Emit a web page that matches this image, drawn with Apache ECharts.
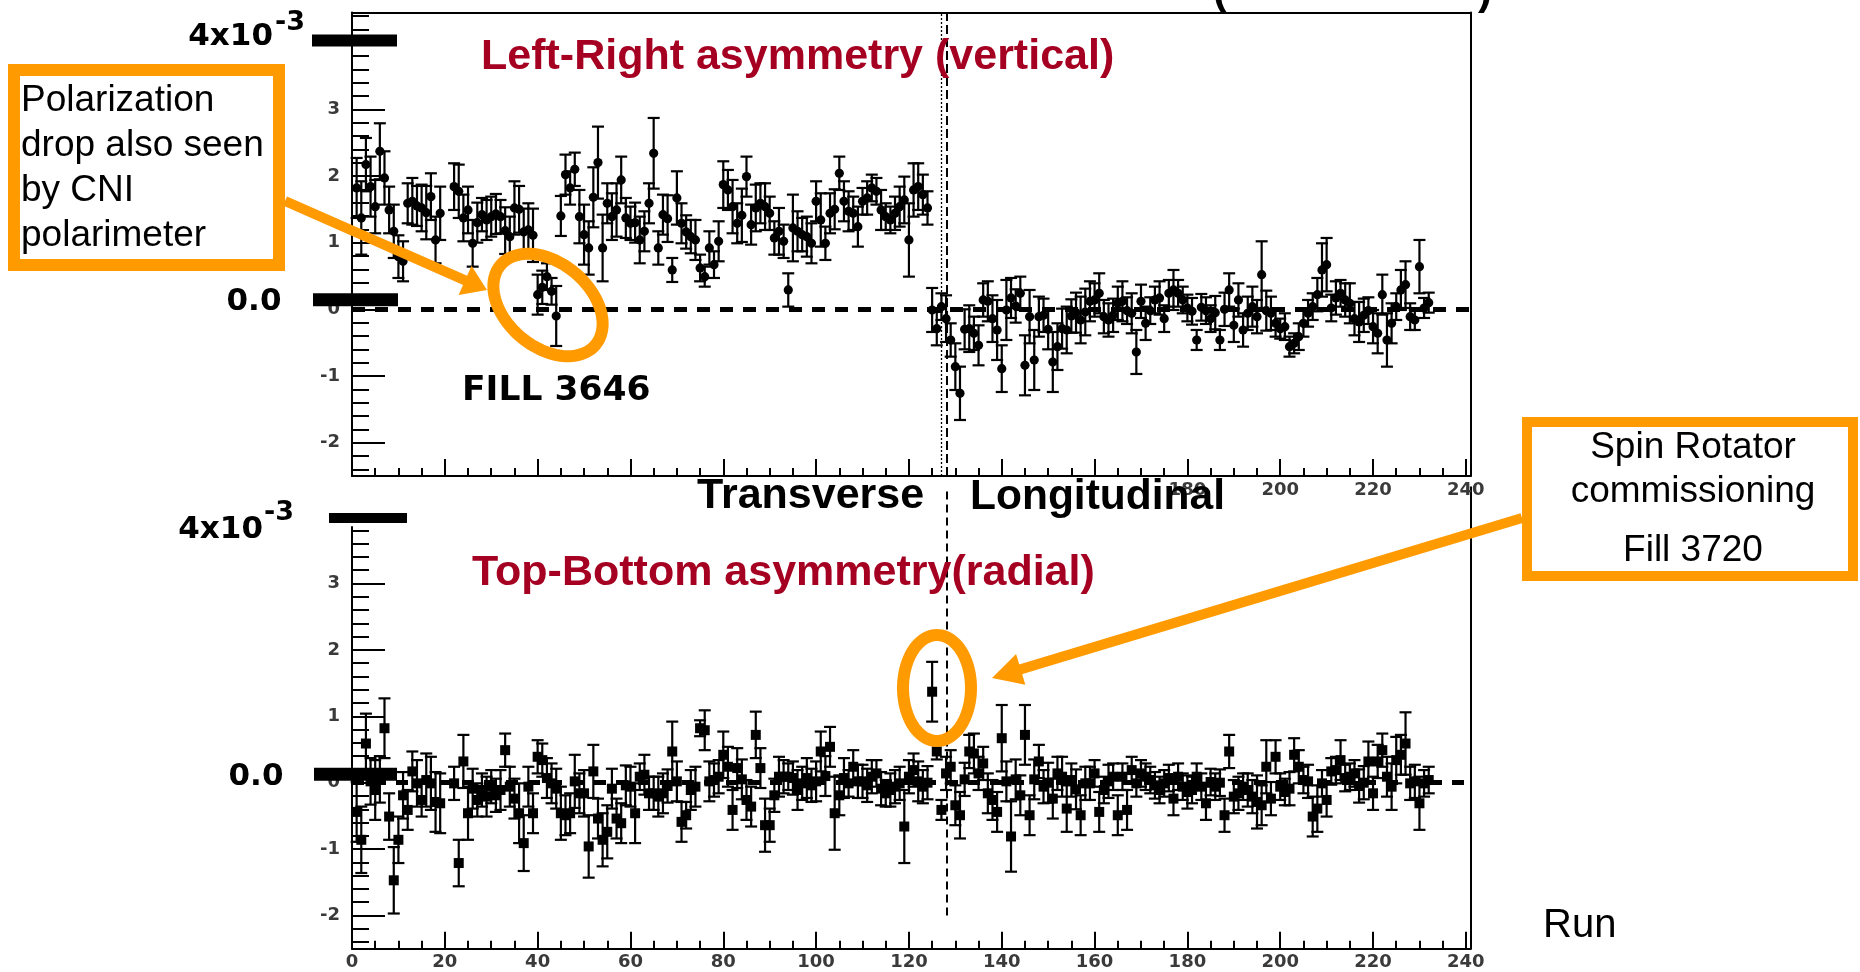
<!DOCTYPE html>
<html>
<head>
<meta charset="utf-8">
<script src="https://cdn.jsdelivr.net/npm/echarts@6.0.0/dist/echarts.min.js"></script>
<style>
  html, body { margin: 0; padding: 0; background: #fff; }
  #chart { width: 1860px; height: 972px; }
</style>
</head>
<body>
<div id="chart"></div>
<script>
// Run number of the first entry in every series below
const FIRST_RUN = 1;

// Left-Right asymmetry (vertical), units of 1e-3, one entry per run (null = no measurement)
const lrAsym = [
  1.82, 1.37, 2.17, 1.84, 1.54, 2.37, 1.97, 1.49, 1.17, 0.79,
  0.72, 1.59, 1.62, 1.55, 1.52, 1.45, 1.69, 1.04, 1.44, null,
  null, 1.84, 1.77, 1.37, 1.49, 0.99, 1.30, 1.42, 1.34, 1.39,
  1.43, 1.39, 1.18, 1.09, 1.52, 1.50, 1.16, 1.19, 1.11, 0.22,
  0.33, 0.49, 0.27, -0.10, 1.40, 2.02, 1.82, 2.10, 1.39, 1.12,
  0.92, 1.68, 2.20, 0.92, 1.59, 1.39, 1.49, 1.94, 1.37, 1.29,
  1.30, 1.04, 1.17, 1.59, 2.34, 0.92, 1.42, 1.36, 0.59, 1.67,
  1.29, 1.16, 1.09, 1.04, 0.62, 0.49, 0.92, 0.67, 1.02, 1.87,
  1.79, 1.54, 1.29, 1.41, 1.99, 1.27, 1.52, 1.59, 1.54, 1.44,
  1.07, 1.17, 1.02, 0.29, 1.22, 1.17, 1.12, 1.09, 0.99, 1.62,
  1.34, 0.99, 1.44, 1.50, 2.04, 1.62, 1.47, 1.44, 1.24, 1.62,
  1.67, 1.82, 1.77, 1.49, 1.39, 1.34, 1.44, 1.54, 1.64, 1.04,
  1.79, 1.84, 1.72, 1.52, -0.01, -0.29, 0.04, -0.14, -0.46, -0.86,
  -1.26, -0.30, -0.29, -0.36, -0.54, 0.14, 0.12, -0.14, -0.31, -0.89,
  -0.01, 0.17, 0.05, 0.24, -0.84, -0.11, -0.76, -0.11, -0.09, -0.30,
  -0.79, -0.56, -0.29, -0.31, -0.10, -0.05, -0.16, -0.04, 0.12, 0.14,
  0.24, -0.11, -0.16, -0.09, 0.09, 0.12, -0.02, -0.06, -0.64, 0.12,
  -0.21, -0.02, 0.14, 0.17, -0.14, 0.24, 0.29, 0.24, 0.14, 0.02,
  -0.03, -0.46, 0.03, -0.02, -0.14, -0.05, -0.46, 0.00, 0.29, -0.24,
  0.14, -0.31, -0.06, 0.04, -0.11, 0.52, -0.02, -0.06, -0.21, -0.29,
  -0.26, -0.56, -0.51, -0.41, -0.21, -0.06, 0.04, 0.22, 0.59, 0.67,
  0.02, 0.17, 0.24, 0.14, 0.09, -0.14, -0.19, -0.09, -0.02, -0.26,
  -0.36, 0.22, -0.46, -0.21, 0.04, 0.29, 0.37, -0.11, -0.16, 0.64,
  0.02, 0.10
];
const lrErr = [
  0.45, 0.55, 0.40, 0.45, 0.40, 0.42, 0.40, 0.35, 0.40, 0.32,
  0.30, 0.30, 0.35, 0.30, 0.35, 0.40, 0.35, 0.35, 0.40, null,
  null, 0.35, 0.40, 0.35, 0.35, 0.35, 0.30, 0.25, 0.30, 0.30,
  0.30, 0.25, 0.35, 0.30, 0.40, 0.35, 0.35, 0.40, 0.40, 0.30,
  0.25, 0.20, 0.20, 0.45, 0.30, 0.30, 0.25, 0.25, 0.40, 0.45,
  0.40, 0.45, 0.54, 0.50, 0.30, 0.35, 0.40, 0.35, 0.30, 0.25,
  0.30, 0.35, 0.30, 0.30, 0.53, 0.25, 0.30, 0.35, 0.18, 0.40,
  0.30, 0.25, 0.25, 0.30, 0.20, 0.15, 0.25, 0.20, 0.30, 0.35,
  0.30, 0.40, 0.30, 0.40, 0.30, 0.30, 0.35, 0.30, 0.35, 0.25,
  0.25, 0.35, 0.25, 0.25, 0.50, 0.30, 0.25, 0.30, 0.30, 0.30,
  0.40, 0.25, 0.30, 0.30, 0.25, 0.30, 0.30, 0.25, 0.30, 0.20,
  0.25, 0.20, 0.20, 0.30, 0.20, 0.20, 0.25, 0.30, 0.35, 0.55,
  0.40, 0.35, 0.30, 0.25, 0.33, 0.25, 0.20, 0.35, 0.25, 0.35,
  0.40, 0.30, 0.35, 0.25, 0.30, 0.25, 0.30, 0.35, 0.45, 0.35,
  0.45, 0.30, 0.25, 0.25, 0.45, 0.40, 0.45, 0.30, 0.25, 0.30,
  0.45, 0.35, 0.30, 0.35, 0.25, 0.30, 0.35, 0.35, 0.30, 0.25,
  0.30, 0.25, 0.25, 0.25, 0.25, 0.30, 0.20, 0.30, 0.33, 0.25,
  0.25, 0.20, 0.20, 0.25, 0.20, 0.20, 0.30, 0.20, 0.20, 0.20,
  0.20, 0.15, 0.20, 0.20, 0.20, 0.25, 0.15, 0.25, 0.25, 0.25,
  0.25, 0.25, 0.25, 0.30, 0.25, 0.50, 0.30, 0.25, 0.20, 0.15,
  0.20, 0.15, 0.15, 0.20, 0.20, 0.20, 0.20, 0.25, 0.40, 0.40,
  0.20, 0.25, 0.20, 0.25, 0.30, 0.25, 0.30, 0.25, 0.20, 0.25,
  0.30, 0.30, 0.40, 0.30, 0.20, 0.30, 0.35, 0.20, 0.15, 0.40,
  0.15, 0.15
];

// Top-Bottom asymmetry (radial), units of 1e-3
const tbAsym = [
  -0.44, -0.86, 0.59, 0.02, -0.11, 0.05, 0.82, -0.51, -1.47, -0.86,
  -0.19, -0.41, 0.17, -0.01, -0.26, 0.04, -0.01, -0.29, -0.31, null,
  null, -0.01, -1.21, 0.32, -0.46, -0.09, -0.26, -0.11, -0.21, -0.06,
  -0.19, -0.11, 0.49, -0.06, -0.24, -0.46, -0.91, -0.06, -0.46, 0.39,
  0.34, 0.07, -0.01, -0.09, -0.46, -0.49, -0.46, 0.02, -0.16, -0.16,
  -0.96, 0.17, -0.54, -0.86, -0.74, -0.09, -0.54, -0.61, -0.04, -0.06,
  -0.46, 0.09, 0.12, -0.16, -0.16, -0.21, -0.16, -0.05, 0.47, 0.02,
  -0.59, -0.49, -0.11, -0.06, 0.82, 0.79, 0.02, 0.04, 0.09, 0.42,
  0.24, -0.41, 0.22, 0.05, -0.26, -0.36, 0.72, 0.22, -0.64, -0.64,
  -0.19, 0.09, 0.09, 0.09, 0.07, -0.11, -0.01, 0.07, -0.04, 0.02,
  0.47, 0.10, 0.54, -0.46, -0.19, 0.07, -0.01, 0.24, 0.02, 0.02,
  -0.04, 0.09, 0.14, -0.09, -0.16, -0.11, -0.06, -0.01, -0.66, 0.09,
  0.19, 0.02, -0.06, 0.00, 1.37, 0.47, -0.41, 0.14, 0.24, -0.34,
  -0.49, 0.05, 0.47, 0.44, 0.14, 0.29, -0.16, -0.26, -0.44, 0.67,
  0.02, -0.81, 0.05, -0.19, 0.72, -0.49, 0.05, 0.32, -0.06, 0.00,
  -0.24, 0.14, 0.09, -0.39, 0.04, -0.10, -0.49, -0.01, -0.01, 0.14,
  -0.44, -0.11, 0.02, 0.09, -0.49, 0.09, -0.41, 0.19, -0.01, 0.14,
  0.09, 0.04, -0.04, -0.11, -0.01, 0.07, -0.24, 0.09, -0.06, -0.14,
  -0.11, 0.09, -0.06, -0.31, 0.01, -0.06, 0.00, -0.49, 0.47, -0.21,
  -0.16, -0.06, -0.11, -0.21, -0.29, -0.34, 0.24, -0.24, 0.39, -0.06,
  -0.14, -0.09, 0.42, 0.24, 0.04, 0.02, -0.51, -0.39, -0.01, -0.26,
  0.17, 0.19, 0.34, 0.07, 0.09, 0.14, -0.05, 0.00, 0.32, -0.16,
  0.32, 0.49, 0.09, -0.06, 0.34, 0.42, 0.59, -0.01, 0.02, -0.31,
  -0.01, 0.04
];
const tbErr = [
  0.45, 0.50, 0.45, 0.35, 0.45, 0.35, 0.45, 0.35, 0.50, 0.35,
  0.35, 0.30, 0.30, 0.35, 0.25, 0.40, 0.40, 0.45, 0.45, null,
  null, 0.25, 0.35, 0.40, 0.40, 0.30, 0.25, 0.25, 0.30, 0.25,
  0.25, 0.30, 0.25, 0.30, 0.30, 0.45, 0.42, 0.30, 0.30, 0.25,
  0.25, 0.30, 0.30, 0.30, 0.40, 0.30, 0.30, 0.40, 0.30, 0.35,
  0.47, 0.40, 0.30, 0.40, 0.40, 0.30, 0.30, 0.30, 0.30, 0.30,
  0.45, 0.20, 0.30, 0.25, 0.25, 0.30, 0.30, 0.25, 0.45, 0.30,
  0.30, 0.20, 0.30, 0.30, 0.12, 0.30, 0.30, 0.25, 0.25, 0.35,
  0.30, 0.30, 0.30, 0.30, 0.30, 0.30, 0.35, 0.30, 0.40, 0.25,
  0.25, 0.30, 0.25, 0.20, 0.25, 0.30, 0.25, 0.30, 0.25, 0.30,
  0.30, 0.30, 0.30, 0.55, 0.30, 0.30, 0.20, 0.25, 0.25, 0.25,
  0.25, 0.25, 0.20, 0.25, 0.20, 0.25, 0.25, 0.25, 0.55, 0.25,
  0.25, 0.30, 0.25, 0.25, 0.45, 0.12, 0.15, 0.25, 0.25, 0.30,
  0.35, 0.25, 0.25, 0.30, 0.25, 0.25, 0.30, 0.30, 0.30, 0.50,
  0.30, 0.53, 0.30, 0.30, 0.45, 0.30, 0.30, 0.25, 0.25, 0.30,
  0.30, 0.25, 0.30, 0.35, 0.25, 0.30, 0.30, 0.25, 0.25, 0.20,
  0.30, 0.20, 0.25, 0.20, 0.30, 0.20, 0.30, 0.20, 0.20, 0.20,
  0.20, 0.20, 0.20, 0.20, 0.20, 0.20, 0.25, 0.20, 0.20, 0.25,
  0.20, 0.20, 0.20, 0.25, 0.20, 0.20, 0.20, 0.25, 0.25, 0.25,
  0.25, 0.20, 0.25, 0.25, 0.40, 0.30, 0.40, 0.25, 0.25, 0.20,
  0.20, 0.25, 0.25, 0.25, 0.20, 0.25, 0.30, 0.35, 0.20, 0.25,
  0.20, 0.20, 0.30, 0.20, 0.20, 0.20, 0.25, 0.25, 0.30, 0.25,
  0.25, 0.25, 0.30, 0.35, 0.35, 0.30, 0.47, 0.25, 0.25, 0.40,
  0.20, 0.20
];

// Axis ranges, ticks and labels
const X_MIN = 0, X_MAX = 241;
const Y_MIN = -2.5, Y_MAX = 4.45;
const xMajorTicks = [0, 20, 40, 60, 80, 100, 120, 140, 160, 180, 200, 220, 240];
const xLabelsUpper = [180, 200, 220, 240];
const xLabelsLower = [0, 20, 40, 60, 80, 100, 120, 140, 160, 180, 200, 220, 240];
const yMajorTicks = [-2, -1, 0, 1, 2, 3, 4];
const yTickLabels = [-2, -1, 0, 1, 2, 3];

// Runs where the beam polarization was switched from transverse to longitudinal
const switchRunDotted = 127.0;
const switchRunDashed = 128.1;
const dashedLineLowEnd = -2.0;

// Minor ticks: every 5 runs on x, every 0.2 on y
const xMinorTicks = [];
for (let v = 0; v <= 240; v += 5) if (v % 20 !== 0) xMinorTicks.push(v);
const yMinorTicks = [];
for (let k = -12; k <= 22; k++) if (k % 5 !== 0) yMinorTicks.push(Math.round(k * 2) / 10);

function toPoints(vals, errs) {
  const out = [];
  vals.forEach((v, i) => { if (v !== null) out.push([FIRST_RUN + i, v, errs[i]]); });
  return out;
}

// Error bar with caps plus a filled marker (circle or square)
function errorBarRenderer(marker) {
  return function (params, api) {
    const x = api.value(0), y = api.value(1), e = api.value(2);
    const c = api.coord([x, y]);
    const hi = api.coord([x, y + e]);
    const lo = api.coord([x, y - e]);
    const cap = 6;
    const st = { stroke: '#000', lineWidth: 2.2 };
    const children = [
      { type: 'line', shape: { x1: c[0], y1: hi[1], x2: c[0], y2: lo[1] }, style: st },
      { type: 'line', shape: { x1: c[0] - cap, y1: hi[1], x2: c[0] + cap, y2: hi[1] }, style: st },
      { type: 'line', shape: { x1: c[0] - cap, y1: lo[1], x2: c[0] + cap, y2: lo[1] }, style: st }
    ];
    if (marker === 'circle') {
      children.push({ type: 'circle', shape: { cx: c[0], cy: c[1], r: 4.6 }, style: { fill: '#000' } });
    } else {
      children.push({ type: 'rect', shape: { x: c[0] - 5, y: c[1] - 5, width: 10, height: 10 }, style: { fill: '#000' } });
    }
    return { type: 'group', children };
  };
}

const frameLine = { show: true, onZero: false, lineStyle: { color: '#000', width: 2 } };
const tickFont = { color: '#3a3a3a', fontFamily: 'DejaVu Sans', fontWeight: 'bold', fontSize: 18 };

function xMain(grid, labels) {
  return {
    type: 'value', gridIndex: grid, position: 'bottom', min: X_MIN, max: X_MAX,
    axisLine: frameLine,
    axisTick: { show: true, inside: true, length: 17, customValues: xMajorTicks, lineStyle: { color: '#000', width: 2 } },
    axisLabel: Object.assign({ show: true, customValues: labels, margin: 5 }, tickFont),
    splitLine: { show: false }
  };
}
function xMinor(grid) {
  return {
    type: 'value', gridIndex: grid, position: 'bottom', min: X_MIN, max: X_MAX,
    axisLine: { show: false, onZero: false },
    axisTick: { show: true, inside: true, length: 8, customValues: xMinorTicks, lineStyle: { color: '#000', width: 2 } },
    axisLabel: { show: false }, splitLine: { show: false }
  };
}
function yMain(grid) {
  return {
    type: 'value', gridIndex: grid, position: 'left', min: Y_MIN, max: Y_MAX,
    axisLine: frameLine,
    axisTick: { show: true, inside: true, length: 33, customValues: yMajorTicks, lineStyle: { color: '#000', width: 2 } },
    axisLabel: Object.assign({ show: true, customValues: yTickLabels, margin: 12 }, tickFont),
    splitLine: { show: false }
  };
}
function yMinor(grid) {
  return {
    type: 'value', gridIndex: grid, position: 'left', min: Y_MIN, max: Y_MAX,
    axisLine: { show: false, onZero: false },
    axisTick: { show: true, inside: true, length: 17, customValues: yMinorTicks, lineStyle: { color: '#000', width: 2 } },
    axisLabel: { show: false }, splitLine: { show: false }
  };
}
function frameOnly(kind, grid, pos) {
  const base = { type: 'value', gridIndex: grid, position: pos, axisLine: frameLine,
    axisTick: { show: false }, axisLabel: { show: false }, splitLine: { show: false } };
  if (kind === 'x') { base.min = X_MIN; base.max = X_MAX; } else { base.min = Y_MIN; base.max = Y_MAX; }
  return base;
}

const chart = echarts.init(document.getElementById('chart'), null, { renderer: 'canvas' });

const option = {
  animation: false,
  backgroundColor: '#ffffff',
  grid: [
    { left: 352, top: 12.6, width: 1118.5, height: 463.4 },
    { left: 352, top: 487.2, width: 1118.5, height: 461.5 }
  ],
  xAxis: [
    xMain(0, xLabelsUpper), xMinor(0), frameOnly('x', 0, 'top'),
    xMain(1, xLabelsLower), xMinor(1)
  ],
  yAxis: [
    yMain(0), yMinor(0), frameOnly('y', 0, 'right'),
    yMain(1), yMinor(1), frameOnly('y', 1, 'right')
  ],
  series: [
    {
      name: 'Left-Right', type: 'custom', xAxisIndex: 0, yAxisIndex: 0,
      renderItem: errorBarRenderer('circle'),
      encode: { x: 0, y: 1 },
      data: toPoints(lrAsym, lrErr), z: 5
    },
    {
      name: 'Top-Bottom', type: 'custom', xAxisIndex: 3, yAxisIndex: 3,
      renderItem: errorBarRenderer('square'),
      encode: { x: 0, y: 1 },
      data: toPoints(tbAsym, tbErr), z: 5
    },
    {
      name: 'guides-upper', type: 'line', xAxisIndex: 0, yAxisIndex: 0, data: [], z: 4,
      markLine: {
        silent: true, symbol: 'none', label: { show: false }, animation: false,
        data: [
          { yAxis: 0, lineStyle: { type: [13, 10], width: 5, color: '#000' } },
          { xAxis: switchRunDotted, lineStyle: { type: [2, 2], width: 1.3, color: '#000' } },
          { xAxis: switchRunDashed, lineStyle: { type: [9, 4], width: 2, color: '#000' } }
        ]
      }
    },
    {
      name: 'guides-lower', type: 'line', xAxisIndex: 3, yAxisIndex: 3, data: [], z: 4,
      markLine: {
        silent: true, symbol: 'none', label: { show: false }, animation: false,
        data: [
          { yAxis: 0, lineStyle: { type: [12, 10], width: 5, color: '#000' } },
          [
            { coord: [switchRunDashed, dashedLineLowEnd], lineStyle: { type: [8, 5], width: 2, color: '#000' } },
            { coord: [switchRunDashed, Y_MAX] }
          ]
        ]
      }
    }
  ]
};
chart.setOption(option);

// ---- Slide annotations on top of the two plots ----
const ORANGE = '#FF9A00';
const RED = '#A50021';
const SANS = 'Liberation Sans';

function txt(x, y, s, size, opts) {
  return {
    type: 'text', z: 30, x, y,
    style: Object.assign({ text: s, fontSize: size, fontFamily: SANS, fill: '#000',
      align: 'left', verticalAlign: 'middle' }, opts || {})
  };
}
function arrow(x1, y1, x2, y2, w, hl, hw) {
  const dx = x2 - x1, dy = y2 - y1, L = Math.hypot(dx, dy), ux = dx / L, uy = dy / L;
  const bx = x2 - ux * hl, by = y2 - uy * hl;
  return [
    { type: 'line', z: 30, shape: { x1, y1, x2: bx + ux * 2, y2: by + uy * 2 }, style: { stroke: ORANGE, lineWidth: w } },
    { type: 'polygon', z: 30, shape: { points: [[x2, y2], [bx - uy * hw / 2, by + ux * hw / 2], [bx + uy * hw / 2, by - ux * hw / 2]] }, style: { fill: ORANGE } }
  ];
}
function ring(cx, cy, rx, ry, rotDeg, w) {
  const a = rotDeg * Math.PI / 180, pts = [];
  for (let i = 0; i < 96; i++) {
    const t = 2 * Math.PI * i / 96, px = rx * Math.cos(t), py = ry * Math.sin(t);
    pts.push([cx + px * Math.cos(a) - py * Math.sin(a), cy + px * Math.sin(a) + py * Math.cos(a)]);
  }
  return { type: 'polygon', z: 30, shape: { points: pts }, style: { fill: null, stroke: ORANGE, lineWidth: w } };
}

const p4u = chart.convertToPixel({ xAxisIndex: 0, yAxisIndex: 0 }, [0, 4]);
const p0u = chart.convertToPixel({ xAxisIndex: 0, yAxisIndex: 0 }, [0, 0]);
const p4l = chart.convertToPixel({ xAxisIndex: 3, yAxisIndex: 3 }, [0, 4]);
const p0l = chart.convertToPixel({ xAxisIndex: 3, yAxisIndex: 3 }, [0, 0]);
const lowerTop = chart.convertToPixel({ xAxisIndex: 3, yAxisIndex: 3 }, [0, Y_MAX])[1];

const graphics = [
  // the lower plot's axis starts below its "4" marker
  { type: 'rect', z: 20, shape: { x: 336, y: lowerTop - 3, width: 60, height: 42 }, style: { fill: '#fff' } },

  // thick axis markers at 4x10^-3 and 0.0
  { type: 'rect', z: 25, shape: { x: 312, y: p4u[1] - 8, width: 85, height: 12 }, style: { fill: '#000' } },
  { type: 'rect', z: 25, shape: { x: 313, y: p0u[1] - 16, width: 85, height: 13 }, style: { fill: '#000' } },
  { type: 'rect', z: 25, shape: { x: 329, y: p4l[1] - 4, width: 78, height: 10 }, style: { fill: '#000' } },
  { type: 'rect', z: 25, shape: { x: 314, y: p0l[1] - 15, width: 83, height: 13 }, style: { fill: '#000' } },

  txt(273, p4u[1] - 6, '4x10', 31, { fontFamily: 'DejaVu Sans', fontWeight: 'bold', align: 'right' }),
  txt(275, p4u[1] - 20, '-3', 27, { fontFamily: 'DejaVu Sans', fontWeight: 'bold' }),
  txt(254, p0u[1] - 7, '0.0', 31, { fontFamily: 'DejaVu Sans', fontWeight: 'bold', align: 'center' }),
  txt(263, p4l[1] + 13, '4x10', 31, { fontFamily: 'DejaVu Sans', fontWeight: 'bold', align: 'right' }),
  txt(264, p4l[1] - 4, '-3', 27, { fontFamily: 'DejaVu Sans', fontWeight: 'bold' }),
  txt(256, p0l[1] - 6, '0.0', 31, { fontFamily: 'DejaVu Sans', fontWeight: 'bold', align: 'center' }),

  // panel titles
  txt(481, 57, 'Left-Right asymmetry (vertical)', 43, { fontWeight: 'bold', fill: RED }),
  txt(472, 573, 'Top-Bottom asymmetry(radial)', 43, { fontWeight: 'bold', fill: RED }),
  txt(697, 496, 'Transverse', 43, { fontWeight: 'bold' }),
  txt(970, 497, 'Longitudinal', 42.5, { fontWeight: 'bold' }),
  txt(1543, 926, 'Run', 40),
  txt(1213, -8, '(', 42, { fontWeight: 'bold' }),
  txt(1478, -8, ')', 42, { fontWeight: 'bold' }),

  // polarization drop callout
  { type: 'rect', z: 30, shape: { x: 14, y: 70, width: 265, height: 195 }, style: { fill: '#fff', stroke: ORANGE, lineWidth: 12 } },
  txt(21, 101, 'Polarization', 37),
  txt(21, 146, 'drop also seen', 37),
  txt(21, 191, 'by CNI', 37),
  txt(21, 236, 'polarimeter', 37),
  ...arrow(285, 201, 487, 290, 10, 24, 32),
  ring(548, 305, 62, 42, 40, 12),
  txt(462, 391, 'FILL 3646', 34.5, { fontFamily: 'DejaVu Sans', fontWeight: 'bold' }),

  // spin rotator callout
  { type: 'rect', z: 30, shape: { x: 1527, y: 422, width: 326, height: 154 }, style: { fill: '#fff', stroke: ORANGE, lineWidth: 10 } },
  txt(1693, 448, 'Spin Rotator', 37, { align: 'center' }),
  txt(1693, 492, 'commissioning', 37, { align: 'center' }),
  txt(1693, 551, 'Fill 3720', 37, { align: 'center' }),
  ...arrow(1522, 518, 992, 678, 10, 30, 32),
  ring(937, 688, 34, 53, 0, 12)
];
chart.setOption({ graphic: graphics });
</script>
</body>
</html>
